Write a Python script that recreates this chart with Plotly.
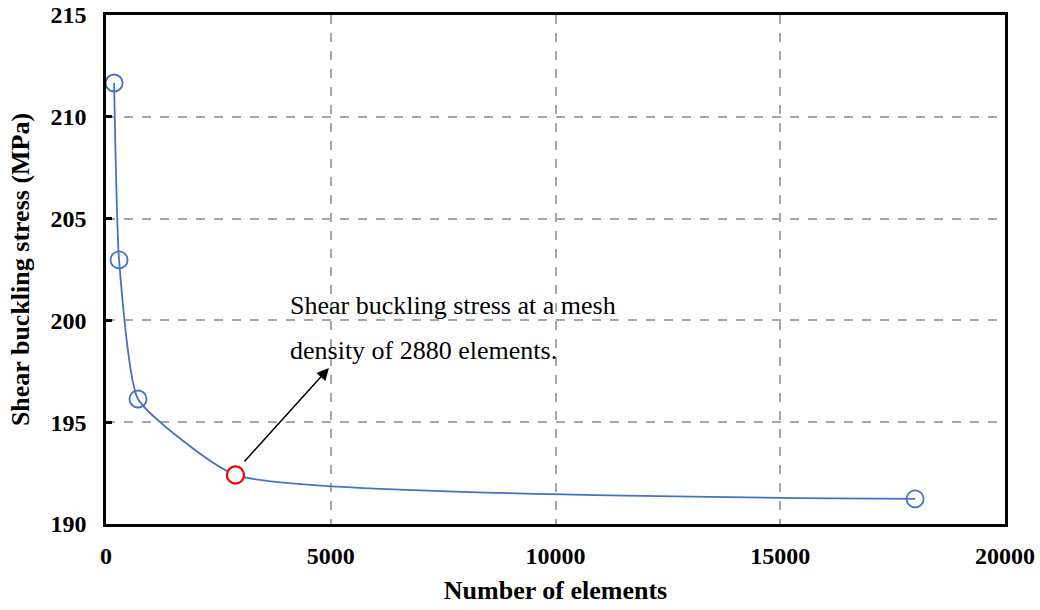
import plotly.graph_objects as go

elements = [180, 290, 712, 2880, 18000]
stress = [211.66, 202.97, 196.14, 192.41, 191.23]
highlight_x = [2880]
highlight_y = [192.41]
x_ticks = [0, 5000, 10000, 15000, 20000]
y_ticks = [190, 195, 200, 205, 210, 215]

BLUE = "#4472C4"
FONT = "Liberation Serif"

fig = go.Figure()
fig.add_trace(go.Scatter(
    x=elements, y=stress, mode="lines+markers",
    line=dict(color=BLUE, width=1.8, shape="spline", smoothing=0.45),
    marker=dict(symbol="circle-open", size=17, color=BLUE, line=dict(width=1.8, color=BLUE)),
    showlegend=False, hoverinfo="x+y"))
fig.add_trace(go.Scatter(
    x=highlight_x, y=highlight_y, mode="markers",
    marker=dict(symbol="circle", size=17, color="white", line=dict(width=2.2, color="#FF0000")),
    showlegend=False))

fig.add_annotation(x=4960, y=197.66, ax=3050, ay=193.0, xref="x", yref="y", axref="x", ayref="y",
                   text="", showarrow=True, arrowhead=2, arrowsize=1.6, arrowwidth=1.5, arrowcolor="black")
fig.add_annotation(x=4049, y=200.75, xref="x", yref="y", xanchor="left", yanchor="middle",
                   text="Shear buckling stress at a mesh", showarrow=False,
                   font=dict(family=FONT, size=26, color="black"))
fig.add_annotation(x=4049, y=198.5, xref="x", yref="y", xanchor="left", yanchor="middle",
                   text="density of 2880 elements.", showarrow=False,
                   font=dict(family=FONT, size=26, color="black"))

fig.update_layout(
    width=1040, height=610,
    margin=dict(l=106, r=35, t=15, b=86),
    paper_bgcolor="white", plot_bgcolor="white",
    font=dict(family=FONT, color="black"),
    xaxis=dict(range=[0, 20000], tickvals=x_ticks, ticktext=[str(v) for v in x_ticks],
               showline=True, linecolor="black", linewidth=2.5, mirror=True,
               showgrid=True, gridcolor="#A6A6A6", griddash="dash", gridwidth=1.5,
               ticks="", ticklabelstandoff=8, automargin=False,
               tickfont=dict(family=FONT, size=24, color="black", weight="bold"),
               title=dict(text="<b>Number of elements</b>", font=dict(family=FONT, size=26), standoff=14),
               zeroline=False),
    yaxis=dict(range=[190, 215], tickvals=y_ticks, ticktext=[str(v) for v in y_ticks],
               showline=True, linecolor="black", linewidth=2.5, mirror=True,
               showgrid=True, gridcolor="#A6A6A6", griddash="dash", gridwidth=1.5,
               ticks="inside", ticklen=6, tickwidth=2.5, tickcolor="black",
               ticklabelstandoff=12, automargin=False,
               tickfont=dict(family=FONT, size=24, color="black", weight="bold"),
               title=dict(text="<b>Shear buckling stress (MPa)</b>", font=dict(family=FONT, size=26), standoff=14),
               zeroline=False),
)

fig.write_html("out.html")
